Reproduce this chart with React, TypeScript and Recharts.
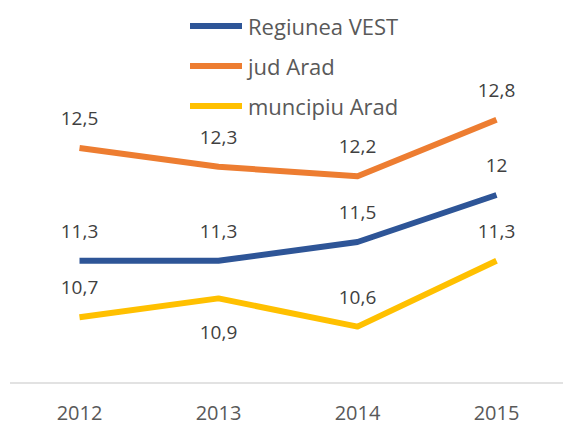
import { LineChart, Line, XAxis, YAxis } from 'recharts';

// categories and series
const years = ['2012', '2013', '2014', '2015'];
const regiuneaVest = [11.3, 11.3, 11.5, 12];
const judArad = [12.5, 12.3, 12.2, 12.8];
const municipiuArad = [10.7, 10.9, 10.6, 11.3];

// where each data label sits relative to its point
const vestLabelPos = ['top', 'top', 'top', 'top'];
const judLabelPos = ['top', 'top', 'top', 'top'];
const municipiuLabelPos = ['top', 'bottom', 'top', 'top'];

const seriesNames = ['Regiunea VEST', 'jud Arad', 'muncipiu Arad'];
const seriesColors = ['#2E5597', '#ED7D31', '#FFC000'];

const FONT = '"Open Sans", "Noto Sans", sans-serif';

const chartData = years.map((year, i) => ({
    year,
    vest: regiuneaVest[i],
    jud: judArad[i],
    municipiu: municipiuArad[i],
}));

const fmt = (v: number) => String(v).replace('.', ',');

function makeLabel(positions: string[]) {
    return (props: any) => {
        const { x, y, value, index } = props;
        const below = positions[index] === 'bottom';
        return (
            <text
                x={x}
                y={below ? y + 34 : y - 30}
                textAnchor="middle"
                dominantBaseline="central"
                fill="#404040"
                fontSize={19}
                fontFamily={FONT}
            >
                {fmt(value)}
            </text>
        );
    };
}

export default function App() {
    return (
        <div style={{ position: 'absolute', left: 0, top: 0, width: 563, height: 425, overflow: 'hidden', background: '#fff' }}>
            <LineChart
                width={566}
                height={425}
                data={chartData}
                margin={{ top: 101, right: 0, bottom: 0, left: 10 }}
            >
                <XAxis
                    dataKey="year"
                    height={42}
                    padding={{ left: 69.5, right: 69.5 }}
                    axisLine={{ stroke: '#D9D9D9', strokeWidth: 1.5 }}
                    tickLine={false}
                    tickSize={0}
                    tickMargin={23}
                    tick={{ fill: '#595959', fontSize: 20, fontFamily: FONT }}
                />
                <YAxis hide domain={[10, 13]} />
                <Line
                    type="linear"
                    dataKey="vest"
                    stroke={seriesColors[0]}
                    strokeWidth={6}
                    strokeLinejoin="round"
                    dot={false}
                    activeDot={false}
                    isAnimationActive={false}
                    label={makeLabel(vestLabelPos)}
                />
                <Line
                    type="linear"
                    dataKey="jud"
                    stroke={seriesColors[1]}
                    strokeWidth={6}
                    strokeLinejoin="round"
                    dot={false}
                    activeDot={false}
                    isAnimationActive={false}
                    label={makeLabel(judLabelPos)}
                />
                <Line
                    type="linear"
                    dataKey="municipiu"
                    stroke={seriesColors[2]}
                    strokeWidth={6}
                    strokeLinejoin="round"
                    dot={false}
                    activeDot={false}
                    isAnimationActive={false}
                    label={makeLabel(municipiuLabelPos)}
                />
            </LineChart>

            {/* legend, stacked like the Excel original */}
            <div style={{ position: 'absolute', left: 190, top: 6, fontFamily: FONT, fontSize: 22, color: '#595959' }}>
                {seriesNames.map((name, i) => (
                    <div key={name} style={{ display: 'flex', alignItems: 'center', height: 40 }}>
                        <span style={{ display: 'inline-block', width: 52, height: 6, background: seriesColors[i], marginRight: 6 }} />
                        <span>{name}</span>
                    </div>
                ))}
            </div>
        </div>
    );
}
